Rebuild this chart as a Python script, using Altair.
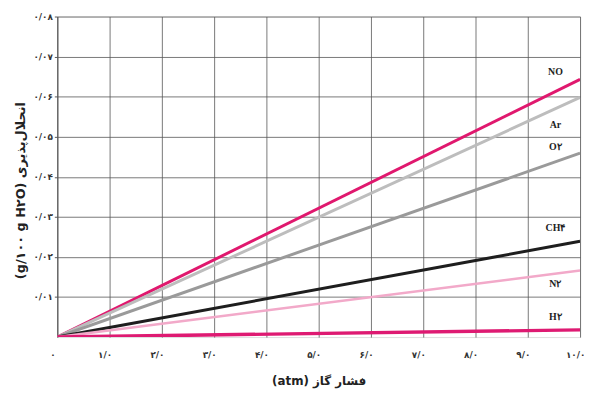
import altair as alt
import pandas as pd

gases = ["NO", "Ar", "O۲", "CH۴", "N۲", "H۲"]
solubility_at_10 = [0.0643, 0.0598, 0.0459, 0.0239, 0.0166, 0.0018]
colors = ["#e0186e", "#bdbdbd", "#9a9a9a", "#1e1e1e", "#f2a9c9", "#de1a72"]
widths = [3, 3, 3, 3, 2.5, 3.5]
label_dy = [-7, 28, -6, -13, 14, -13]

x_ticks = list(range(0, 11))
x_labels = ["۰", "۱/۰", "۲/۰", "۳/۰", "۴/۰", "۵/۰", "۶/۰", "۷/۰", "۸/۰", "۹/۰", "۱۰/۰"]
y_ticks = [0.01, 0.02, 0.03, 0.04, 0.05, 0.06, 0.07, 0.08]
y_labels = ["", "۰/۰۱", "۰/۰۲", "۰/۰۳", "۰/۰۴", "۰/۰۵", "۰/۰۶", "۰/۰۷", "۰/۰۸"]

rows = []
for g, v in zip(gases, solubility_at_10):
    rows.append({"gas": g, "p": 0, "s": 0.0})
    rows.append({"gas": g, "p": 10, "s": v})
df = pd.DataFrame(rows)

xlab_expr = "[" + ",".join("'" + s + "'" for s in x_labels) + "][round(datum.value)]"
ylab_expr = "[" + ",".join("'" + s + "'" for s in y_labels) + "][round(datum.value*100)]"

x_enc = alt.X("p:Q", scale=alt.Scale(domain=[0, 10], nice=False),
              axis=alt.Axis(values=x_ticks, labelExpr=xlab_expr, title="(atm) فشار گاز",
                            grid=True, gridColor="#555", gridWidth=1, gridOpacity=0.8,
                            domain=False, ticks=False, labelPadding=14, labelFlush=False,
                            labelOffset=-5, labelBound=False,
                            labelFont="DejaVu Sans", labelFontSize=9, labelColor="#333",
                            labelFontWeight="bold", titleFont="DejaVu Sans",
                            titleFontSize=12, titleFontWeight="bold", titleColor="#222",
                            titlePadding=16))
y_enc = alt.Y("s:Q", scale=alt.Scale(domain=[0, 0.08], nice=False),
              axis=alt.Axis(values=y_ticks, labelExpr=ylab_expr,
                            title="(g/۱۰۰ g H۲O) انحلال‌پذیری",
                            grid=True, gridColor="#555", gridWidth=1, gridOpacity=0.8,
                            domain=True, domainColor="#555", ticks=True, tickSize=3,
                            tickColor="#555", labelPadding=2, labelFlush=False,
                            labelFont="DejaVu Sans", labelFontSize=9, labelColor="#333",
                            labelFontWeight="bold", titleFont="DejaVu Sans",
                            titleFontSize=13, titleFontWeight="bold", titleColor="#222",
                            titlePadding=6, titleY=176))

layers = []
for g, c, w, dy in zip(gases, colors, widths, label_dy):
    sub = df[df.gas == g]
    layers.append(alt.Chart(sub).mark_line(color=c, strokeWidth=w, clip=True).encode(x=x_enc, y=y_enc))
for g, c, w, dy in zip(gases, colors, widths, label_dy):
    sub = df[(df.gas == g) & (df.p == 10)]
    layers.append(alt.Chart(sub).mark_text(font="Liberation Serif", fontSize=10, fontWeight="bold",
                                           color="#222", dx=-25, dy=dy, align="center").encode(
        x="p:Q", y="s:Q", text="gas:N"))

chart = alt.layer(*layers).properties(
    width=530, height=325,
    autosize=alt.AutoSizeParams(type="none"),
    padding={"left": 50, "top": 6, "right": 4, "bottom": 50},
).configure_view(stroke=None).configure(background="white")

chart.save("out.html", embed_options={"renderer": "svg", "actions": False})
